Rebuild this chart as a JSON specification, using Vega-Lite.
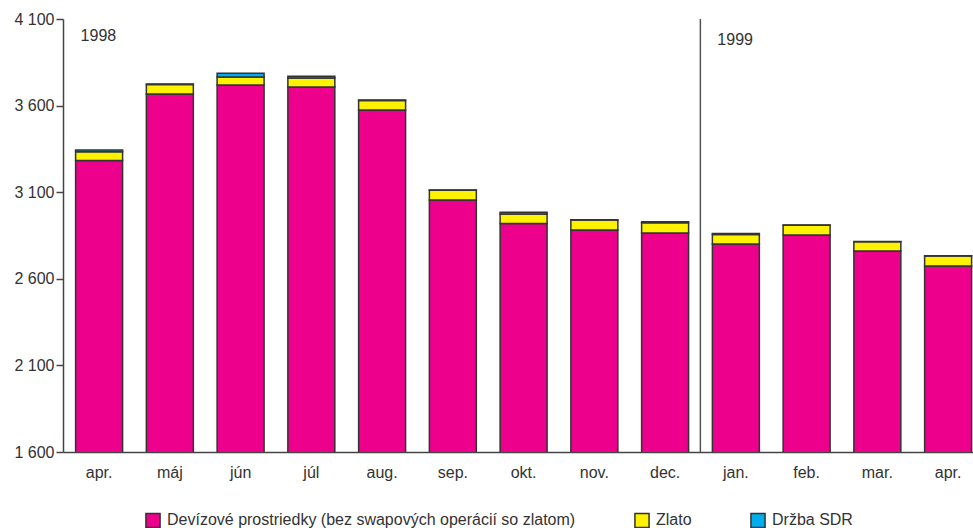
{
  "$schema": "https://vega.github.io/schema/vega-lite/v6.json",
  "width": 910,
  "height": 433,
  "autosize": {"type": "none"},
  "padding": {"left": 63, "top": 19, "right": 0, "bottom": 76},
  "background": "white",
  "config": {
    "view": {"stroke": null},
    "font": "Liberation Sans",
    "axis": {"labelFont": "Liberation Sans", "labelColor": "#333", "labelFontSize": 16, "grid": false}
  },
  "layer": [
    {
      "data": {
        "values": [
          {"mesiac": "apr. 1998", "zlozka": "Devízové prostriedky (bez swapových operácií so zlatom)", "poradie": 1, "hodnota": 3283},
          {"mesiac": "apr. 1998", "zlozka": "Zlato", "poradie": 2, "hodnota": 50},
          {"mesiac": "apr. 1998", "zlozka": "Držba SDR", "poradie": 3, "hodnota": 10},
          {"mesiac": "máj 1998", "zlozka": "Devízové prostriedky (bez swapových operácií so zlatom)", "poradie": 1, "hodnota": 3667},
          {"mesiac": "máj 1998", "zlozka": "Zlato", "poradie": 2, "hodnota": 55},
          {"mesiac": "máj 1998", "zlozka": "Držba SDR", "poradie": 3, "hodnota": 3},
          {"mesiac": "jún 1998", "zlozka": "Devízové prostriedky (bez swapových operácií so zlatom)", "poradie": 1, "hodnota": 3719},
          {"mesiac": "jún 1998", "zlozka": "Zlato", "poradie": 2, "hodnota": 46},
          {"mesiac": "jún 1998", "zlozka": "Držba SDR", "poradie": 3, "hodnota": 22},
          {"mesiac": "júl 1998", "zlozka": "Devízové prostriedky (bez swapových operácií so zlatom)", "poradie": 1, "hodnota": 3707},
          {"mesiac": "júl 1998", "zlozka": "Zlato", "poradie": 2, "hodnota": 52},
          {"mesiac": "júl 1998", "zlozka": "Držba SDR", "poradie": 3, "hodnota": 10},
          {"mesiac": "aug. 1998", "zlozka": "Devízové prostriedky (bez swapových operácií so zlatom)", "poradie": 1, "hodnota": 3575},
          {"mesiac": "aug. 1998", "zlozka": "Zlato", "poradie": 2, "hodnota": 55},
          {"mesiac": "aug. 1998", "zlozka": "Držba SDR", "poradie": 3, "hodnota": 3},
          {"mesiac": "sep. 1998", "zlozka": "Devízové prostriedky (bez swapových operácií so zlatom)", "poradie": 1, "hodnota": 3055},
          {"mesiac": "sep. 1998", "zlozka": "Zlato", "poradie": 2, "hodnota": 56},
          {"mesiac": "sep. 1998", "zlozka": "Držba SDR", "poradie": 3, "hodnota": 2},
          {"mesiac": "okt. 1998", "zlozka": "Devízové prostriedky (bez swapových operácií so zlatom)", "poradie": 1, "hodnota": 2920},
          {"mesiac": "okt. 1998", "zlozka": "Zlato", "poradie": 2, "hodnota": 54},
          {"mesiac": "okt. 1998", "zlozka": "Držba SDR", "poradie": 3, "hodnota": 10},
          {"mesiac": "nov. 1998", "zlozka": "Devízové prostriedky (bez swapových operácií so zlatom)", "poradie": 1, "hodnota": 2882},
          {"mesiac": "nov. 1998", "zlozka": "Zlato", "poradie": 2, "hodnota": 57},
          {"mesiac": "nov. 1998", "zlozka": "Držba SDR", "poradie": 3, "hodnota": 2},
          {"mesiac": "dec. 1998", "zlozka": "Devízové prostriedky (bez swapových operácií so zlatom)", "poradie": 1, "hodnota": 2864},
          {"mesiac": "dec. 1998", "zlozka": "Zlato", "poradie": 2, "hodnota": 60},
          {"mesiac": "dec. 1998", "zlozka": "Držba SDR", "poradie": 3, "hodnota": 5},
          {"mesiac": "jan. 1999", "zlozka": "Devízové prostriedky (bez swapových operácií so zlatom)", "poradie": 1, "hodnota": 2801},
          {"mesiac": "jan. 1999", "zlozka": "Zlato", "poradie": 2, "hodnota": 55},
          {"mesiac": "jan. 1999", "zlozka": "Držba SDR", "poradie": 3, "hodnota": 6},
          {"mesiac": "feb. 1999", "zlozka": "Devízové prostriedky (bez swapových operácií so zlatom)", "poradie": 1, "hodnota": 2853},
          {"mesiac": "feb. 1999", "zlozka": "Zlato", "poradie": 2, "hodnota": 56},
          {"mesiac": "feb. 1999", "zlozka": "Držba SDR", "poradie": 3, "hodnota": 2},
          {"mesiac": "mar. 1999", "zlozka": "Devízové prostriedky (bez swapových operácií so zlatom)", "poradie": 1, "hodnota": 2760},
          {"mesiac": "mar. 1999", "zlozka": "Zlato", "poradie": 2, "hodnota": 54},
          {"mesiac": "mar. 1999", "zlozka": "Držba SDR", "poradie": 3, "hodnota": 2},
          {"mesiac": "apr. 1999", "zlozka": "Devízové prostriedky (bez swapových operácií so zlatom)", "poradie": 1, "hodnota": 2674},
          {"mesiac": "apr. 1999", "zlozka": "Zlato", "poradie": 2, "hodnota": 57},
          {"mesiac": "apr. 1999", "zlozka": "Držba SDR", "poradie": 3, "hodnota": 2}
        ]
      },
      "mark": {"type": "bar", "clip": true, "stroke": "#333", "strokeWidth": 1.5},
      "encoding": {
        "x": {
          "field": "mesiac", "type": "nominal",
          "scale": {
            "domain": ["apr. 1998", "máj 1998", "jún 1998", "júl 1998", "aug. 1998", "sep. 1998", "okt. 1998", "nov. 1998", "dec. 1998", "jan. 1999", "feb. 1999", "mar. 1999", "apr. 1999"],
            "paddingInner": 0.336, "paddingOuter": 0.099, "align": 0.9
          },
          "axis": {
            "title": null, "labelAngle": 0, "ticks": false, "labelPadding": 12,
            "domainColor": "#444", "domainWidth": 1.5,
            "labelExpr": "split(datum.label, ' ')[0]"
          }
        },
        "y": {
          "field": "hodnota", "type": "quantitative", "stack": "zero",
          "scale": {"domain": [1600, 4100], "nice": false, "zero": false},
          "axis": {
            "title": null, "values": [1600, 2100, 2600, 3100, 3600, 4100],
            "tickSize": 7, "tickColor": "#444", "tickWidth": 1.5, "domainColor": "#444", "domainWidth": 1.5,
            "labelPadding": 2,
            "labelExpr": "replace(format(datum.value, ','), ',', ' ')"
          }
        },
        "color": {
          "field": "zlozka", "type": "nominal",
          "scale": {
            "domain": ["Devízové prostriedky (bez swapových operácií so zlatom)", "Zlato", "Držba SDR"],
            "range": ["#EC008C", "#FFF200", "#00AEEF"]
          },
          "legend": {
            "title": null, "orient": "none", "direction": "horizontal",
            "legendX": 82, "legendY": 493,
            "symbolType": "square", "symbolSize": 200, "symbolStrokeColor": "#333", "symbolStrokeWidth": 1.5,
            "symbolOpacity": 1, "labelLimit": 0,
            "labelFontSize": 16, "labelColor": "#333", "labelFont": "Liberation Sans",
            "columnPadding": 55, "labelOffset": 6
          }
        },
        "order": {"field": "poradie", "type": "quantitative"}
      }
    },
    {
      "data": {"values": [{"mesiac": "jan. 1999"}]},
      "mark": {"type": "rule", "color": "#555", "strokeWidth": 1.5, "xOffset": -12},
      "encoding": {
        "x": {"field": "mesiac", "type": "nominal", "bandPosition": 0}
      }
    },
    {
      "data": {"values": [{"mesiac": "apr. 1998", "rok": "1998", "poloha": 3973}, {"mesiac": "jan. 1999", "rok": "1999", "poloha": 3950}]},
      "mark": {"type": "text", "align": "left", "baseline": "alphabetic", "fontSize": 16, "color": "#333", "dx": 5, "font": "Liberation Sans"},
      "encoding": {
        "x": {"field": "mesiac", "type": "nominal", "bandPosition": 0},
        "y": {"field": "poloha", "type": "quantitative"},
        "text": {"field": "rok"}
      }
    }
  ]
}
